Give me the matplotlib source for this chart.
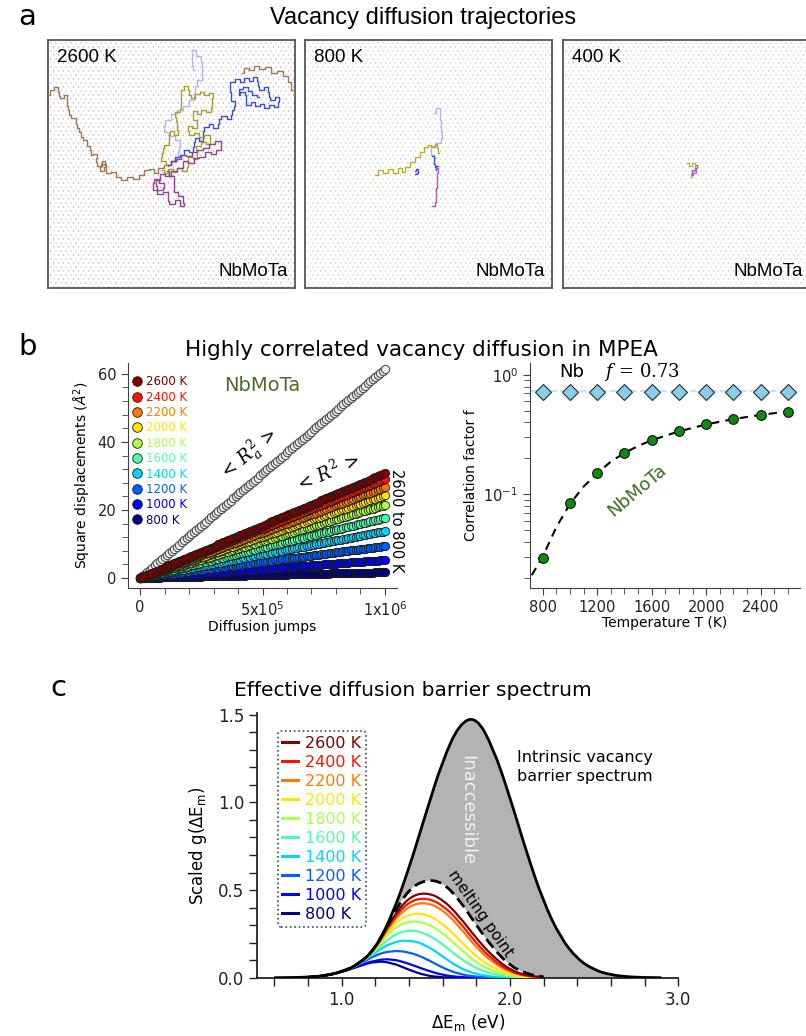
import numpy as np
import matplotlib
matplotlib.use('Agg')
import matplotlib.pyplot as plt
from matplotlib.path import Path
from matplotlib.patches import PathPatch
from matplotlib.lines import Line2D
from matplotlib.colors import to_hex
from matplotlib.ticker import MultipleLocator, FormatStrFormatter

## Data ##
#-----------------------------------------------------------------------------------------------------------------------
# panel a: vacancy trajectories, waypoints in box pixels (u right, v down, box is 247 x 248)
t2600_brown_a = [(0, 55), (4, 50), (8, 47), (12, 52), (9, 56), (14, 58), (18, 55), (20, 60), (17, 66), (22, 70),
                 (20, 75), (26, 78), (30, 84), (28, 88), (33, 92), (32, 97), (37, 100), (40, 106), (44, 110),
                 (42, 115), (47, 114), (50, 118), (46, 122), (52, 126), (56, 121), (58, 127), (54, 131), (50, 127),
                 (55, 124), (60, 133), (66, 132), (70, 137), (76, 140), (82, 137), (88, 139), (93, 135), (98, 130),
                 (104, 129), (108, 133), (112, 128), (120, 125)]
t2600_brown_b = [(247, 55), (244, 50), (242, 42), (238, 36), (232, 31), (226, 33), (220, 27), (214, 29), (208, 26),
                 (203, 30), (198, 28), (194, 33)]
t2600_purple = [(120, 125), (125, 121), (131, 119), (135, 115), (141, 116), (146, 112), (152, 110), (158, 108),
                (163, 104), (170, 101), (175, 106), (170, 110), (166, 114), (160, 112), (154, 117), (148, 118),
                (143, 123), (137, 121), (132, 128), (126, 131), (120, 136), (114, 134), (110, 140), (106, 146),
                (112, 150), (118, 148), (114, 143), (108, 139), (103, 143), (106, 150), (112, 154), (118, 152),
                (121, 157), (118, 161), (124, 164), (130, 160), (134, 166), (137, 163), (133, 156), (127, 152),
                (124, 145), (128, 140), (123, 136), (119, 131)]
t2600_olive = [(120, 125), (115, 121), (111, 117), (116, 113), (113, 108), (119, 105), (123, 100), (119, 95),
               (124, 91), (128, 95), (131, 90), (127, 86), (130, 81), (125, 77), (129, 72), (134, 69), (131, 64),
               (135, 60), (131, 55), (134, 50), (138, 46), (142, 50), (140, 55), (145, 58), (149, 54), (154, 52),
               (158, 55), (163, 53), (166, 58), (162, 63), (165, 68), (160, 72), (155, 70), (151, 74), (147, 71),
               (143, 75), (147, 80), (151, 84), (146, 88), (141, 86), (138, 91), (143, 95), (148, 93), (153, 97),
               (159, 95), (164, 99), (160, 104), (155, 102), (150, 106), (146, 110), (151, 114), (147, 119),
               (142, 117), (138, 122), (141, 127), (136, 131), (131, 128), (127, 132), (122, 129), (118, 133),
               (114, 130)]
t2600_blue = [(120, 125), (125, 121), (129, 117), (134, 115), (138, 110), (143, 112), (147, 107), (144, 102),
              (149, 98), (153, 101), (157, 96), (153, 91), (158, 87), (163, 84), (167, 88), (172, 84), (170, 79),
              (176, 76), (181, 79), (185, 75), (183, 70), (188, 66), (185, 61), (181, 57), (184, 52), (180, 47),
              (184, 42), (189, 39), (194, 42), (198, 38), (203, 41), (207, 37), (211, 41), (208, 46), (213, 50),
              (218, 47), (222, 52), (219, 57), (224, 60), (229, 57), (232, 62), (228, 67), (223, 65), (218, 68),
              (214, 64), (209, 66), (205, 62), (200, 65), (196, 60), (199, 55), (194, 52), (190, 55), (192, 49),
              (197, 47), (202, 51), (206, 55), (211, 57)]
t2600_lavender = [(120, 125), (126, 122), (132, 118), (128, 112), (134, 106), (130, 100), (124, 96), (118, 92),
                  (114, 86), (120, 80), (126, 74), (132, 70), (138, 66), (144, 60), (148, 54), (146, 46), (152, 40),
                  (156, 34), (152, 28), (156, 22), (150, 16), (146, 10), (142, 14), (146, 20), (142, 26), (147, 30)]

t800_olive = [(70, 135), (75, 130), (80, 133), (85, 129), (90, 133), (95, 128), (98, 132), (102, 127), (107, 122),
              (112, 117), (117, 112), (121, 107), (124, 105), (128, 107), (132, 104), (132, 108), (134, 113)]
t800_lavender = [(129, 73), (133, 68), (136, 72), (134, 80), (137, 86), (135, 92), (138, 98), (134, 103),
                 (128, 106), (124, 110), (127, 115), (131, 118)]
t800_blue = [(127, 116), (130, 120), (127, 124), (132, 127), (129, 130), (133, 126)]
t800_blue_small = [(110, 131), (112, 129), (113, 133), (110, 134)]
t800_purple = [(131, 128), (134, 133), (130, 138), (134, 143), (129, 148), (133, 153), (129, 158), (132, 162),
               (127, 166)]

t400_olive = [(124, 123), (127, 126), (130, 123), (133, 127), (130, 131), (127, 134), (129, 137)]
t400_purple = [(133, 125), (135, 128), (131, 133), (128, 135), (130, 130), (133, 128)]

# panel b
temps = [2600, 2400, 2200, 2000, 1800, 1600, 1400, 1200, 1000, 800]
msd_end = [30.8, 29.1, 26.7, 24.3, 21.5, 17.7, 13.8, 9.4, 5.3, 1.7]   # <R^2> after 1e6 jumps
ra2_end = 61.5                                                          # <Ra^2> after 1e6 jumps
f_mpea = [0.493, 0.465, 0.425, 0.391, 0.341, 0.283, 0.223, 0.150, 0.084, 0.0294]
f_nb = [0.72, 0.72, 0.72, 0.72, 0.72, 0.72, 0.72, 0.72, 0.72, 0.72]
fit_T = [720, 800, 900, 1000, 1100, 1200, 1300, 1400, 1500, 1600, 1800, 2000, 2200, 2400, 2600]
fit_f = [0.021, 0.030, 0.053, 0.083, 0.116, 0.150, 0.188, 0.222, 0.254, 0.284, 0.337, 0.385, 0.427, 0.463, 0.495]

# panel c
E_int = [0.6, 0.7, 0.8, 0.9, 1.0, 1.1, 1.2, 1.3, 1.4, 1.5, 1.6, 1.7, 1.8, 1.9, 2.0, 2.1, 2.2, 2.3, 2.4, 2.5,
         2.6, 2.7, 2.8, 2.9]
g_int = [0.000, 0.001, 0.003, 0.011, 0.033, 0.075, 0.165, 0.355, 0.620, 0.935, 1.238, 1.450, 1.490, 1.313,
         1.031, 0.711, 0.431, 0.229, 0.107, 0.044, 0.016, 0.005, 0.001, 0.000]
E_eff = [0.8, 0.9, 1.0, 1.1, 1.2, 1.3, 1.4, 1.5, 1.6, 1.7, 1.8, 1.9, 2.0, 2.1, 2.2]
g_melt = [0.003, 0.011, 0.033, 0.075, 0.165, 0.352, 0.505, 0.560, 0.545, 0.445, 0.300, 0.168, 0.068, 0.021, 0.005]
g_2600 = [0.003, 0.011, 0.033, 0.075, 0.164, 0.340, 0.460, 0.488, 0.448, 0.350, 0.225, 0.120, 0.044, 0.012, 0.002]
g_2400 = [0.003, 0.011, 0.033, 0.075, 0.163, 0.330, 0.435, 0.458, 0.415, 0.320, 0.196, 0.100, 0.035, 0.010, 0.002]
g_2200 = [0.003, 0.011, 0.033, 0.075, 0.162, 0.318, 0.410, 0.432, 0.389, 0.291, 0.172, 0.085, 0.030, 0.008, 0.001]
g_2000 = [0.003, 0.011, 0.033, 0.074, 0.160, 0.298, 0.365, 0.365, 0.310, 0.215, 0.120, 0.055, 0.019, 0.005, 0.001]
g_1800 = [0.003, 0.011, 0.033, 0.074, 0.158, 0.278, 0.325, 0.314, 0.256, 0.168, 0.085, 0.036, 0.011, 0.003, 0.0]
g_1600 = [0.003, 0.011, 0.033, 0.073, 0.152, 0.240, 0.275, 0.254, 0.192, 0.112, 0.052, 0.020, 0.005, 0.001, 0.0]
g_1400 = [0.003, 0.011, 0.033, 0.072, 0.145, 0.202, 0.216, 0.188, 0.122, 0.055, 0.020, 0.005, 0.001, 0.0, 0.0]
g_1200 = [0.003, 0.011, 0.033, 0.070, 0.130, 0.155, 0.147, 0.110, 0.056, 0.020, 0.005, 0.001, 0.0, 0.0, 0.0]
g_1000 = [0.003, 0.011, 0.032, 0.067, 0.100, 0.108, 0.080, 0.044, 0.015, 0.003, 0.0, 0.0, 0.0, 0.0, 0.0]
g_800 = [0.003, 0.011, 0.031, 0.064, 0.095, 0.086, 0.045, 0.012, 0.002, 0.0, 0.0, 0.0, 0.0, 0.0, 0.0]
g_eff = [g_2600, g_2400, g_2200, g_2000, g_1800, g_1600, g_1400, g_1200, g_1000, g_800]

## Styling ##
#-----------------------------------------------------------------------------------------------------------------------
plt.rcParams['font.family'] = ['DejaVu Sans']
narrow = ['Liberation Sans', 'DejaVu Sans']
colors = [to_hex(c) for c in plt.cm.jet(np.linspace(1, 0, 10))]  # 2600 K (dark red) ... 800 K (navy)
grey_spine = '#404040'


def smooth_path(x, y, close=False):
    # quadratic bezier through the midpoints, drawn by matplotlib's Path
    pts = np.column_stack([x, y])
    mids = (pts[:-1] + pts[1:]) / 2
    verts = [pts[0], mids[0]]
    codes = [Path.MOVETO, Path.LINETO]
    for i in range(1, len(pts) - 1):
        verts += [pts[i], mids[i]]
        codes += [Path.CURVE3, Path.CURVE3]
    verts.append(pts[-1])
    codes.append(Path.LINETO)
    if close:
        verts += [(x[-1], 0), (x[0], 0), (x[0], 0)]
        codes += [Path.LINETO, Path.LINETO, Path.CLOSEPOLY]
    return Path(verts, codes)


def draw_traj(ax, pts, color, alpha=1.0, lw=1.0):
    # lattice hops: draw the waypoints as a staircase
    ax.plot([p[0] for p in pts], [p[1] for p in pts], color=color, lw=lw, alpha=alpha, zorder=3,
            drawstyle='steps-mid')


fig = plt.figure(figsize=(8.06, 10.36), dpi=100)
W, H = 806.0, 1036.0


def px_axes(x0, y0, x1, y1):
    # axes placed by pixel box of the reference (y down)
    return fig.add_axes([x0 / W, 1 - y1 / H, (x1 - x0) / W, (y1 - y0) / H])


## Panel a ##
#-----------------------------------------------------------------------------------------------------------------------
fig.text(18 / W, 1 - 17 / H, 'a', fontsize=21, va='center', ha='left')
fig.text(423 / W, 1 - 18 / H, 'Vacancy diffusion trajectories', fontsize=17, family=narrow, ha='center', va='center')

boxes = [(48, 295), (305, 552), (563, 810)]
labels_a = ['2600 K', '800 K', '400 K']
dot_cols = [['#e2a0a0', '#a0a0e2', '#c0c0c0'], ['#9cd8c0', '#d4cc98', '#c4b0dc'], ['#9cd8c0', '#d4cc98', '#c4b0dc']]
axes_a = []
for (x0, x1), lab, dc in zip(boxes, labels_a, dot_cols):
    ax = px_axes(x0, 40, x1, 288)
    ax.set_xlim(0, 247)
    ax.set_ylim(248, 0)
    ax.set_xticks([])
    ax.set_yticks([])
    for s in ax.spines.values():
        s.set_color('#555555')
        s.set_linewidth(1.3)
    # faint atom lattice in the background
    gx, gy = np.meshgrid(np.arange(3, 247, 5.0), np.arange(3, 248, 4.0))
    gx[1::2] += 2.5
    ax.scatter(gx.ravel(), gy.ravel(), s=1.0, c=[dc[i % 3] for i in range(gx.size)], linewidths=0, zorder=1)
    ax.text(9, 18, lab, fontsize=13.5, family=narrow, va='center', ha='left')
    ax.text(240, 232, 'NbMoTa', fontsize=13.5, family=narrow, va='center', ha='right')
    axes_a.append(ax)

draw_traj(axes_a[0], t2600_lavender, '#aab0ee', alpha=0.9)
draw_traj(axes_a[0], t2600_brown_a, '#9c7a55')
draw_traj(axes_a[0], t2600_brown_b, '#9c7a55')
draw_traj(axes_a[0], t2600_blue, '#3a52c8')
draw_traj(axes_a[0], t2600_olive, '#a3a128')
draw_traj(axes_a[0], t2600_purple, '#8e4690')

draw_traj(axes_a[1], t800_lavender, '#aab0ee', alpha=0.9)
draw_traj(axes_a[1], t800_olive, '#b4b032')
draw_traj(axes_a[1], t800_blue, '#3a52d8')
draw_traj(axes_a[1], t800_blue_small, '#3a52d8')
draw_traj(axes_a[1], t800_purple, '#b85aa8')

draw_traj(axes_a[2], t400_olive, '#b4b032', lw=0.9)
draw_traj(axes_a[2], t400_purple, '#b060c0', lw=0.9)

## Panel b ##
#-----------------------------------------------------------------------------------------------------------------------
fig.text(18 / W, 1 - 347 / H, 'b', fontsize=21, va='center', ha='left')
fig.text(421 / W, 1 - 350 / H, 'Highly correlated vacancy diffusion in MPEA', fontsize=15.5, ha='center', va='center')

axl = px_axes(128, 363, 397, 588)
jumps = np.linspace(0, 1e6, 101)
axl.plot(jumps, ra2_end * jumps / 1e6, 'o', ms=6.0, mfc='#ececec', mec='#505050', mew=0.8, zorder=2)
handles = []
for t, m, c in list(zip(temps, msd_end, colors))[::-1]:
    ln, = axl.plot(jumps, m * jumps / 1e6, 'o', ms=6.0, mfc=c, mec='#1a1a1a', mew=0.6, label=f'{t} K', zorder=3)
    handles.append(ln)
axl.set_xlim(-0.049e6, 1.049e6)
axl.set_ylim(-2.94, 63.2)
axl.legend(handles=handles[::-1], loc='upper left', bbox_to_anchor=(0.015, 0.945), frameon=False,
           fontsize=8.5, labelcolor='markerfacecolor', handlelength=0.8, handletextpad=0.35,
           labelspacing=0.2, borderpad=0, borderaxespad=0, markerscale=1.15, numpoints=1)
axl.set_xticks([0, 5e5, 1e6])
axl.set_xticklabels(['0', r'5x10$^5$', r'1x10$^6$'])
axl.xaxis.set_minor_locator(MultipleLocator(1e5))
axl.set_yticks([0, 20, 40, 60])
axl.yaxis.set_minor_locator(MultipleLocator(4))
axl.set_xlabel('Diffusion jumps', fontsize=10, labelpad=1)
axl.set_ylabel(r'Square displacements ($\AA^2$)', fontsize=10, labelpad=3)
axl.text(0.5, 0.9, 'NbMoTa', transform=axl.transAxes, fontsize=14, color='#4f6b2c', ha='center', va='center')
axl.text(248, 1036 - 455, r'$<\,R_a^2\,>$', transform=None, fontsize=13, rotation=40, ha='center', va='center',
         math_fontfamily='dejavuserif')
axl.text(327, 1036 - 473, r'$<\,R^2\,>$', transform=None, fontsize=13, rotation=24, ha='center', va='center',
         math_fontfamily='dejavuserif')
axl.text(1.0, 0.3, '2600 to 800 K', transform=axl.transAxes, fontsize=10.5, rotation=-90,
         ha='center', va='center')

axr = px_axes(530, 363, 800, 588)
axr.axhline(0.73, color='#aee4f5', lw=1.2, ls=(0, (4, 2)), zorder=1)
axr.plot(temps, f_nb, 'D', ms=8.5, mfc='#87ceeb', mec='#2a2a2a', mew=0.8, zorder=3)
axr.plot(fit_T, fit_f, color='k', lw=1.5, ls=(0, (4, 3)), zorder=2)
axr.plot(temps, f_mpea, 'o', ms=7, mfc='#118811', mec='#111111', mew=0.8, zorder=4)
axr.set_yscale('log')
axr.set_xlim(707, 2688)
axr.set_ylim(0.0164, 1.26)
axr.set_xticks([800, 1200, 1600, 2000, 2400])
axr.xaxis.set_minor_locator(MultipleLocator(100))
axr.set_xlabel('Temperature T (K)', fontsize=10, labelpad=1)
axr.set_ylabel('Correlation factor f', fontsize=10, labelpad=4)
axr.text(572, 1036 - 372, 'Nb', transform=None, fontsize=13, ha='center', va='center')
axr.text(642, 1036 - 372, r'$f\,=\,0.73$', transform=None, fontsize=13, ha='center', va='center',
         math_fontfamily='dejavuserif')
axr.text(637, 1036 - 490, 'NbMoTa', transform=None, fontsize=13, rotation=40, color='#3d6b1f',
         ha='center', va='center')

for ax in (axl, axr):
    for side in ('top', 'right'):
        ax.spines[side].set_visible(False)
    for side in ('left', 'bottom'):
        ax.spines[side].set_color(grey_spine)
    ax.tick_params(which='both', direction='out', colors=grey_spine, labelcolor='#222222', labelsize=10.5)
    ax.tick_params(which='major', length=5)
    ax.tick_params(which='minor', length=4)

## Panel c ##
#-----------------------------------------------------------------------------------------------------------------------
fig.text(50 / W, 1 - 688 / H, 'c', fontsize=21, va='center', ha='left')
fig.text(413 / W, 1 - 690 / H, 'Effective diffusion barrier spectrum', fontsize=14.5, ha='center', va='center')

axc = px_axes(257.3, 713, 678.3, 977.7)
axc.add_patch(PathPatch(smooth_path(E_int, g_int, close=True), facecolor='#b3b3b3', edgecolor='none', zorder=1))
axc.add_patch(PathPatch(smooth_path(E_eff, g_melt, close=True), facecolor='white', edgecolor='none', zorder=2))
for g, c in list(zip(g_eff, colors))[::-1]:
    axc.add_patch(PathPatch(smooth_path(E_eff, g), facecolor='none', edgecolor=c, lw=1.6, zorder=3))
leg_handles = [Line2D([], [], color=c, lw=2.2, label=f'{t} K') for t, c in zip(temps, colors)]
axc.add_patch(PathPatch(smooth_path(E_eff, g_melt), facecolor='none', edgecolor='k', lw=2,
                        ls=(0, (4, 2)), zorder=4))
axc.add_patch(PathPatch(smooth_path(E_int, g_int), facecolor='none', edgecolor='k', lw=2, zorder=5))
axc.set_xlim(0.5, 3.0)
axc.set_ylim(0, 1.51)
axc.set_xticks([1.0, 2.0, 3.0])
axc.xaxis.set_minor_locator(MultipleLocator(0.2))
axc.set_yticks([0.0, 0.5, 1.0, 1.5])
axc.yaxis.set_minor_locator(MultipleLocator(0.1))
axc.xaxis.set_major_formatter(FormatStrFormatter('%.1f'))
axc.yaxis.set_major_formatter(FormatStrFormatter('%.1f'))
for side in ('top', 'right'):
    axc.spines[side].set_visible(False)
for side in ('left', 'bottom'):
    axc.spines[side].set_linewidth(1.3)
    axc.spines[side].set_color('#222222')
axc.tick_params(which='both', direction='out', length=6, width=1, labelsize=12, colors='#222222')
axc.set_xlabel(r'ΔE$_\mathrm{m}$ (eV)', fontsize=12, labelpad=2)
axc.set_ylabel(r'Scaled g(ΔE$_\mathrm{m}$)', fontsize=12, labelpad=6)
leg = axc.legend(handles=leg_handles, loc='upper left', bbox_to_anchor=(0.048, 0.932), fontsize=11.5,
                 labelcolor='linecolor', handlelength=1.0, handletextpad=0.4, labelspacing=0.25,
                 borderpad=0.3, borderaxespad=0, fancybox=True, framealpha=1)
leg.get_frame().set_edgecolor('#2f4a7a')
leg.get_frame().set_linestyle(':')
leg.get_frame().set_linewidth(1.2)
axc.text(467, 1036 - 810, 'Inaccessible', transform=None, fontsize=13, rotation=-90, color='#f2f2f2',
         ha='center', va='center', zorder=6)
axc.text(585, 1036 - 767, 'Intrinsic vacancy\nbarrier spectrum', transform=None, fontsize=11.5,
         ha='center', va='center', linespacing=1.3)
axc.text(480, 1036 - 914, 'melting point', transform=None, fontsize=11, rotation=-55,
         ha='center', va='center', zorder=6)

fig.savefig('out.png', dpi=100)
